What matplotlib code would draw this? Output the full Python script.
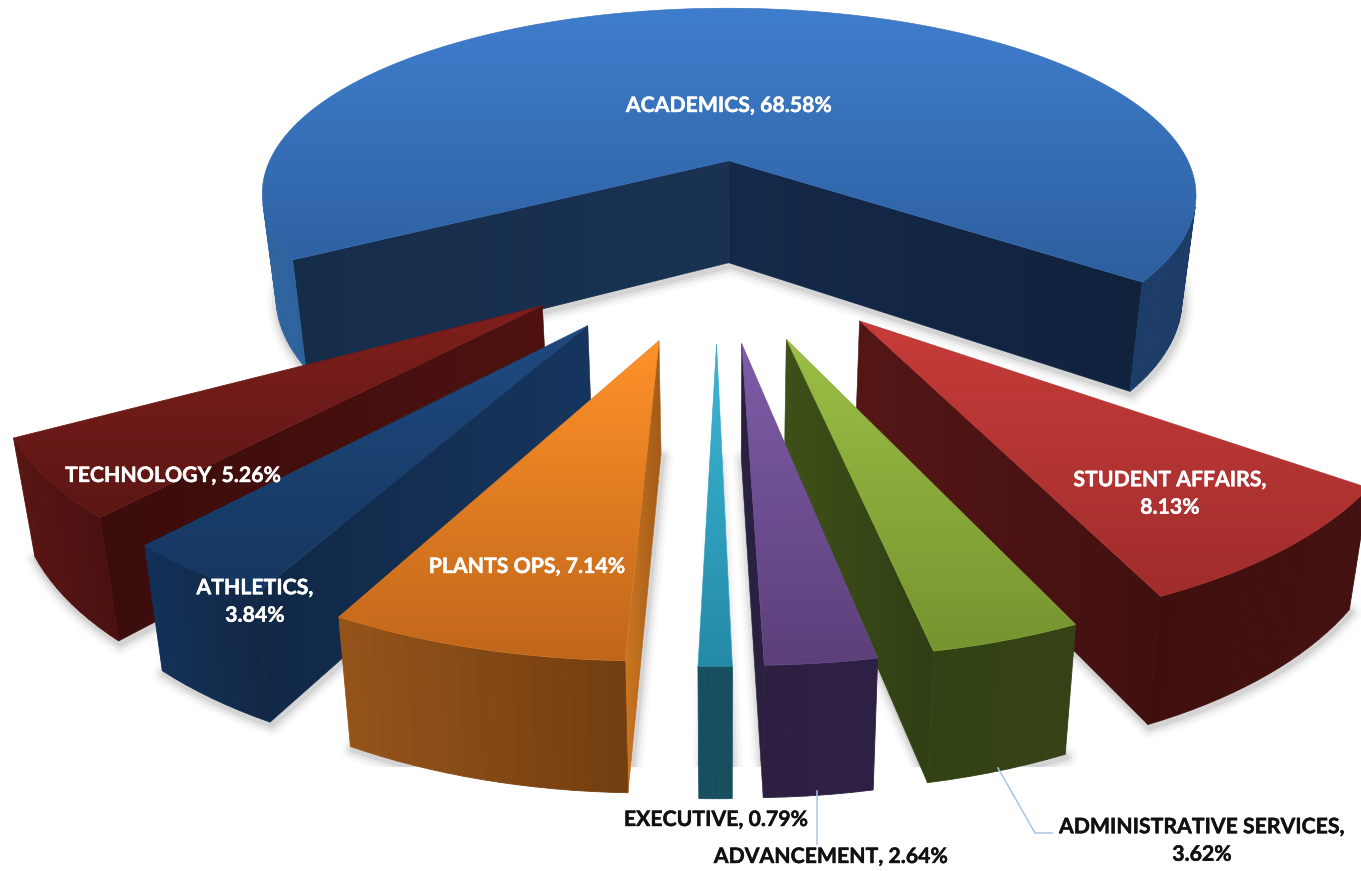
import numpy as np
import matplotlib
matplotlib.use("Agg")
import matplotlib.pyplot as plt
import matplotlib.patheffects as pe
from matplotlib.colors import to_rgb, LinearSegmentedColormap
from matplotlib.patches import Polygon, Rectangle

plt.rcParams['font.family'] = ['Lato', 'DejaVu Sans']

categories = ["ACADEMICS", "STUDENT AFFAIRS", "ADMINISTRATIVE SERVICES", "ADVANCEMENT",
              "EXECUTIVE", "PLANTS OPS", "ATHLETICS", "TECHNOLOGY"]
values = [68.58, 8.13, 3.62, 2.64, 0.79, 7.14, 3.84, 5.26]

W, H = 1361, 871
CX, CY, RX, RY, K, EXPLODE, A0 = 716.9248, 244.5709, 497.9335, 211.9612, 0.1969, 0.4297, -2.0946
VX, XSCALE, YSCALE, YOFF = 727.0, 0.97, 1.06, 92.4

# style per slice: top (vertical ramp), cut and wall (left to right ramp)
top_cols = ["#3F7ECE", "#C73C39", "#9CBF46", "#7F5DA9", "#3CB8D8", "#FF9229", "#1F4A80", "#7F1F1C"]
top_ends = ["#2D5F9E", "#A02D2C", "#76942F", "#5C3F7A", "#258AA6", "#C0661B", "#153660", "#5B1614"]
# first cut face of a slice (its start edge)
cut_a_cols = ["#162D4A", "#421010", "#303E14", "#2A2040", "#174F5E", "#CC7722", "#112846", "#3A0D0C"]
cut_a_ends = ["#1A3353", "#421010", "#303E14", "#2A2040", "#174F5E", "#A05A18", "#17365F", "#4F1210"]
# second cut face of a slice (its end edge)
cut_b_cols = ["#15294A", "#541716", "#3F5119", "#2A2040", "#174F5E", "#CC7722", "#112846", "#3A0D0C"]
cut_b_ends = ["#11223D", "#421010", "#303E14", "#2A2040", "#174F5E", "#A05A18", "#17365F", "#4F1210"]
wall_cols = ["#2E649F", "#3F0F0E", "#334214", "#2D1F42", "#174F5E", "#96551A", "#13315A", "#581513"]
wall_ends = ["#1C3B66", "#431110", "#344216", "#2E2044", "#174F5E", "#733E10", "#122846", "#4A1110"]
draw_order = [0, 7, 6, 5, 1, 2, 3, 4]

fr = np.array(values)/sum(values)*2*np.pi
st = A0 + np.concatenate([[0], np.cumsum(fr)[:-1]])
en = st+fr


def proj(u, v):
    w = 1+K*v
    return np.c_[CX+RX*u/w, CY-RY*v/w]


def lower(pts):
    pts = np.asarray(pts)
    return np.c_[VX+XSCALE*(pts[:, 0]-VX), YSCALE*pts[:, 1]+YOFF]


def area(p):
    x, y = p[:, 0], p[:, 1]
    return 0.5*np.sum(x*np.roll(y, -1)-np.roll(x, -1)*y)


fig = plt.figure(figsize=(W/100, H/100), dpi=100, facecolor='white')
ax = fig.add_axes([0, 0, 1, 1])
z = [1]


def nz():
    z[0] += 1
    return z[0]


def grad_poly(poly, c1, c2, vertical=True):
    poly = np.asarray(poly)
    x0, y0 = poly.min(0)
    x1, y1 = poly.max(0)
    cm = LinearSegmentedColormap.from_list("g", [c1, c2])
    ramp = np.linspace(0, 1, 256)
    img = ramp[:, None] if vertical else ramp[None, :]
    im = ax.imshow(img, cmap=cm, extent=(x0, x1, y1, y0), origin='upper', aspect='auto',
                   zorder=nz(), interpolation='bilinear', vmin=0, vmax=1)
    patch = Polygon(poly, closed=True, transform=ax.transData, fc='none', ec='none')
    ax.add_patch(patch)
    im.set_clip_path(patch)
    c = tuple((np.array(to_rgb(c1))+np.array(to_rgb(c2)))/2)
    ax.add_patch(Polygon(poly, closed=True, fc='none', ec=c, lw=0.4, zorder=z[0]))


def mix(a, b, f):
    return tuple(np.array(to_rgb(a))*(1-f)+np.array(to_rgb(b))*f)


geo = []
for i in range(len(values)):
    mid = (st[i]+en[i])/2
    u0, v0 = EXPLODE*np.sin(mid), EXPLODE*np.cos(mid)
    n = max(6, int(np.degrees(fr[i])/1.5))
    t = np.linspace(st[i], en[i], n)
    apex = proj(np.array([u0]), np.array([v0]))
    rim = proj(u0+np.sin(t), v0+np.cos(t))
    geo.append((apex, rim))

# soft cast shadows, cut off below like the source picture
for i in draw_order:
    apex, rim = geo[i]
    outline = lower(np.r_[apex, rim])+np.array([1.5, 3.0])
    for lw, al in [(16, .018), (12, .03), (8, .05), (4, .07)]:
        ax.add_patch(Polygon(outline, closed=True, fc='none', ec='k', lw=lw, alpha=al,
                             joinstyle='round', zorder=nz()))
ax.add_patch(Rectangle((0, 767), W, H-767, fc='white', ec='none', zorder=nz()))

for i in draw_order:
    apex, rim = geo[i]
    lapex, lrim = lower(apex), lower(rim)
    # cut faces that look at the viewer
    q = np.array([apex[0], rim[0], lower(rim[0][None])[0], lapex[0]])
    if area(q) < 0:
        grad_poly(q, cut_a_cols[i], cut_a_ends[i], vertical=False)
    q = np.array([apex[0], rim[-1], lower(rim[-1][None])[0], lapex[0]])
    if area(q) > 0:
        grad_poly(q, cut_b_cols[i], cut_b_ends[i], vertical=False)
    # outer wall
    for j in range(len(rim)-1):
        q = np.array([rim[j], rim[j+1], lrim[j+1], lrim[j]])
        if area(q) < 0:
            f = (rim[j, 0]-rim[:, 0].min())/max(1, np.ptp(rim[:, 0]))
            col = mix(wall_cols[i], wall_ends[i], f)
            ax.add_patch(Polygon(q, closed=True, fc=col, ec=col, lw=0.6, zorder=nz()))
    # top face
    grad_poly(np.r_[apex, rim], top_cols[i], top_ends[i], vertical=True)

# labels
label_fmt = ["ACADEMICS, 68.58%", "STUDENT AFFAIRS,\n8.13%", "ADMINISTRATIVE SERVICES,\n3.62%",
             "ADVANCEMENT, 2.64%", "EXECUTIVE, 0.79%", "PLANTS OPS, 7.14%", "ATHLETICS,\n3.84%",
             "TECHNOLOGY, 5.26%"]
label_xy = [(729, 106), (1170, 494), (1202, 841), (831, 857), (716, 820), (527, 567), (255, 602), (173, 476)]
label_col = ["white", "white", "#111111", "#111111", "#111111", "white", "white", "white"]
for s, (x, y), c in zip(label_fmt, label_xy, label_col):
    t = ax.text(x, y, s, color=c, fontsize=15.3, fontweight='bold', ha='center', va='center',
                linespacing=1.47, zorder=nz())
    t.set_path_effects([pe.withStroke(linewidth=0.3, foreground=c)])

# leader lines
ax.plot([817, 817], [791, 844], color="#A9C4E6", lw=1.1, zorder=nz())
ax.plot([998, 1035, 1052], [768, 833, 833], color="#A9C4E6", lw=1.1, zorder=nz())

ax.set_xlim(0, W)
ax.set_ylim(H, 0)
ax.axis('off')
fig.savefig("out.png", dpi=100, facecolor='white')
